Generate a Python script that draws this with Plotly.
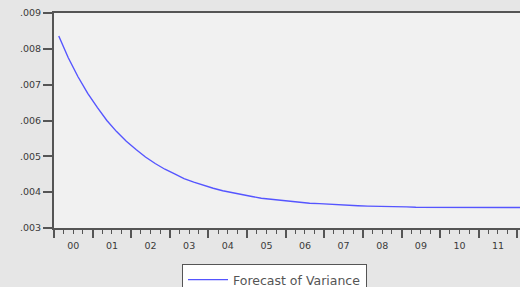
import plotly.graph_objects as go
import pandas as pd

# Quarterly forecast of variance, 2000Q1 .. 2012Q1
variance = [0.00836, 0.00775, 0.00722, 0.00676, 0.00636, 0.00600, 0.00569, 0.00542,
            0.00519, 0.00498, 0.00480, 0.00464, 0.00451, 0.00438, 0.00428, 0.00419,
            0.00411, 0.00404, 0.00398, 0.00392, 0.00388, 0.00383, 0.00380, 0.00377,
            0.00374, 0.00372, 0.00369, 0.00368, 0.00366, 0.00365, 0.00363, 0.00362,
            0.00361, 0.00361, 0.00360, 0.00359, 0.00359, 0.00358, 0.00358, 0.00358,
            0.00358, 0.00358, 0.00357, 0.00357, 0.00357, 0.00357, 0.00357, 0.00357,
            0.00357]
dates = pd.date_range("2000-01-15", periods=len(variance), freq="3MS") + pd.Timedelta(days=14)

y_tickvals = [0.003, 0.004, 0.005, 0.006, 0.007, 0.008, 0.009]
y_ticktext = [".003", ".004", ".005", ".006", ".007", ".008", ".009"]
series_name = "Forecast of Variance"

fig = go.Figure()
fig.add_trace(go.Scatter(
    x=dates, y=variance, mode="lines", name=series_name,
    line=dict(color="rgb(85,85,255)", width=1.4),
))

axis_col = "#555555"
tick_font = dict(family="DejaVu Sans, sans-serif", size=9.5, color="#3a3a3a")
fig.update_layout(
    width=520, height=287,
    margin=dict(l=54, r=0, t=13, b=59, autoexpand=False),
    paper_bgcolor="#e6e6e6",
    plot_bgcolor="#f1f1f1",
    font=dict(family="DejaVu Sans, sans-serif", size=9, color="#3a3a3a"),
    showlegend=True,
    legend=dict(
        orientation="h", x=(182 - 54) / 466, xanchor="left", y=(228 - 264) / 215, yanchor="top",
        bgcolor="white", bordercolor="#555555", borderwidth=1,
        font=dict(family="DejaVu Sans, sans-serif", size=12.5, color="#555555"),
        itemwidth=40,
    ),
    xaxis=dict(
        type="date",
        range=["2000-01-01", "2012-01-26"],
        dtick="M12", tick0="2000-01-01", tickformat="%y",
        ticklabelmode="period",
        ticks="outside", ticklen=8, tickwidth=1.5, tickcolor=axis_col,
        minor=dict(dtick="M3", ticks="outside", ticklen=4, tickwidth=1.2, tickcolor=axis_col),
        showgrid=False, zeroline=False, automargin=False,
        showline=True, linecolor=axis_col, linewidth=2, mirror=True,
        tickfont=tick_font,
    ),
    yaxis=dict(
        range=[0.003, 0.009],
        tickvals=y_tickvals, ticktext=y_ticktext,
        ticks="outside", ticklen=9, tickwidth=1.5, tickcolor=axis_col,
        showgrid=False, zeroline=False, automargin=False,
        showline=True, linecolor=axis_col, linewidth=2,
        tickfont=tick_font,
    ),
)

fig.write_html(
    "out.html",
    config={"displayModeBar": False},
    post_script="document.body.style.margin='0';document.body.style.overflow='hidden';"
                "document.body.style.background='#e6e6e6';",
)
